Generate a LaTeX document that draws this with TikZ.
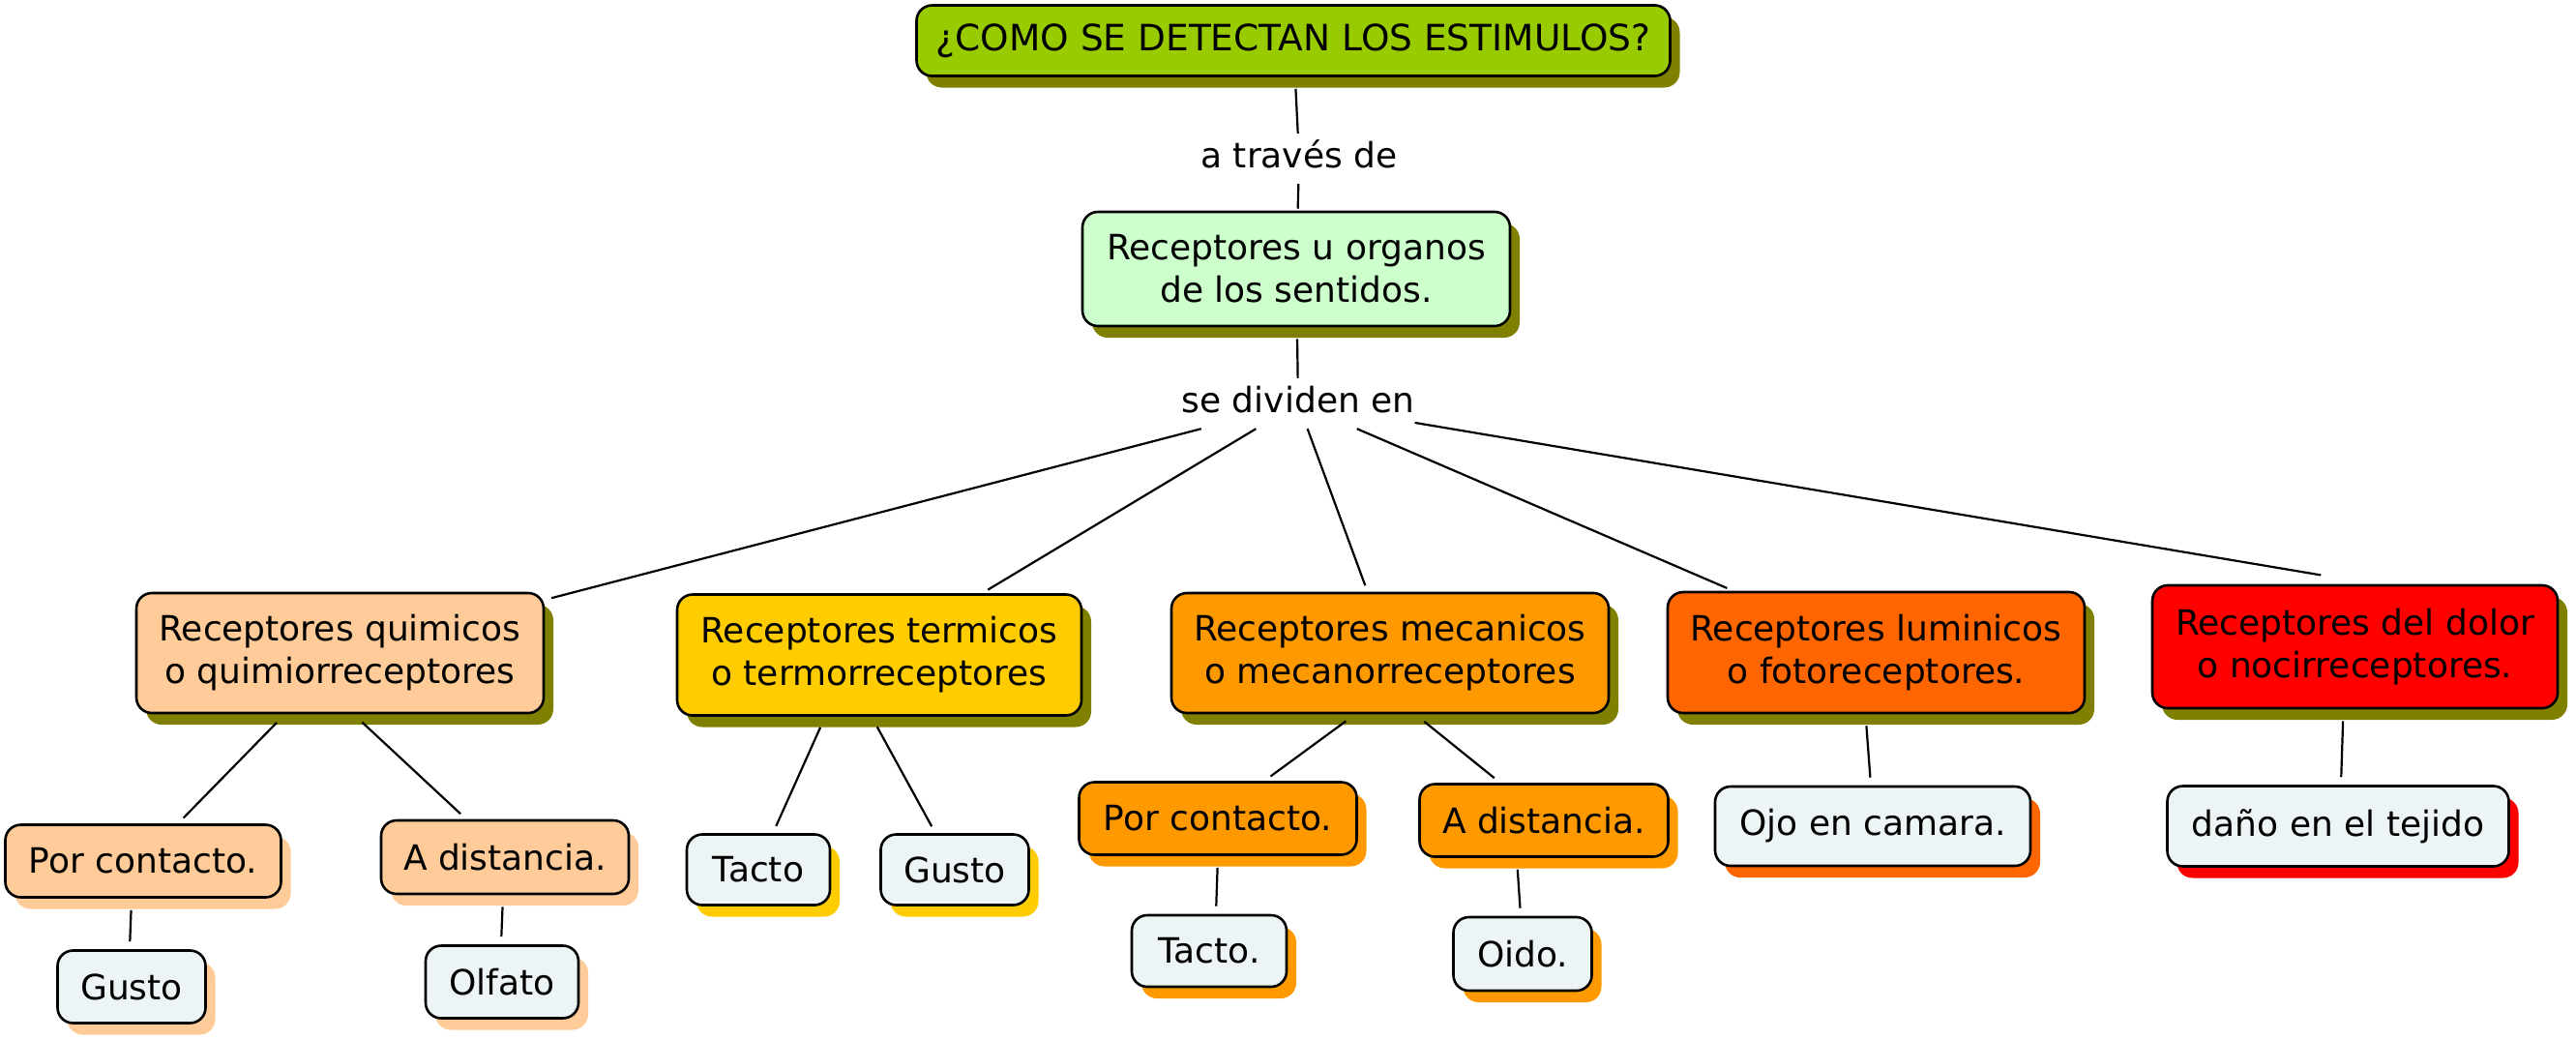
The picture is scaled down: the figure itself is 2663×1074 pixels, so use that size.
\documentclass[tikz,border=0pt]{standalone}
\usepackage{fontspec}
\setmainfont{DejaVu Sans}
\usetikzlibrary{shadows}
\definecolor{titlegreen}{RGB}{153,204,0}
\definecolor{olivesh}{RGB}{128,128,0}
\definecolor{mint}{RGB}{204,255,204}
\definecolor{peach}{RGB}{255,204,153}
\definecolor{gold}{RGB}{255,204,0}
\definecolor{orng}{RGB}{255,153,0}
\definecolor{dorng}{RGB}{255,102,0}
\definecolor{redc}{RGB}{255,0,0}
\definecolor{leaf}{RGB}{237,244,245}
\begin{document}
\begin{tikzpicture}[x=1pt,y=-1pt,
 box/.style={draw=black, line width=2.6pt, rounded corners=16pt, align=center, inner sep=0pt, font=\fontsize{36}{44}\selectfont},
 sh/.style={drop shadow={shadow xshift=10pt, shadow yshift=-12pt, fill=#1, opacity=1}},
 lab/.style={inner sep=0pt, minimum height=52pt, text height=27pt, text depth=8pt, font=\fontsize{36}{44}\selectfont},
 link/.style={line width=2.2pt},
 bb/.style={link, shorten <=12pt, shorten >=8pt}
]
\useasboundingbox (0,0) rectangle (2663,1074);
\node[box, fill=titlegreen, sh=olivesh, minimum width=779pt, minimum height=73pt, font=\fontsize{37.5}{44}\selectfont] (t) at (1337,42) {¿COMO SE DETECTAN LOS ESTIMULOS?};
\node[lab] (l1) at (1343,164) {a través de};
\node[box, fill=mint, sh=olivesh, minimum width=442pt, minimum height=118pt] (r) at (1340,278) {Receptores u organos\\de los sentidos.};
\node[lab] (l2) at (1342,417) {se dividen en};

\node[box, fill=peach, sh=olivesh, minimum width=421pt, minimum height=124pt] (qui) at (351.5,675) {Receptores quimicos\\o quimiorreceptores};
\node[box, fill=gold, sh=olivesh, minimum width=418pt, minimum height=125pt] (ter) at (909,677) {Receptores termicos\\o termorreceptores};
\node[box, fill=orng, sh=olivesh, minimum width=452pt, minimum height=124pt] (mec) at (1437,675) {Receptores mecanicos\\o mecanorreceptores};
\node[box, fill=dorng, sh=olivesh, minimum width=431pt, minimum height=125pt] (lum) at (1939.5,674.5) {Receptores luminicos\\o fotoreceptores.};
\node[box, fill=redc, sh=olivesh, minimum width=419pt, minimum height=127pt] (dol) at (2434.5,668.5) {Receptores del dolor\\o nocirreceptores.};

\node[box, fill=peach, sh=peach, minimum width=285pt, minimum height=75pt] (qpc) at (148,890) {Por contacto.};
\node[box, fill=peach, sh=peach, minimum width=256pt, minimum height=76pt] (qad) at (522,886) {A distancia.};
\node[box, fill=leaf, sh=peach, minimum width=153pt, minimum height=75pt] (qg) at (136,1020) {Gusto};
\node[box, fill=leaf, sh=peach, minimum width=158pt, minimum height=75pt] (qo) at (519,1015) {Olfato};

\node[box, fill=leaf, sh=gold, minimum width=148pt, minimum height=73pt] (tt) at (784,899) {Tacto};
\node[box, fill=leaf, sh=gold, minimum width=153pt, minimum height=73pt] (tg) at (987,899) {Gusto};

\node[box, fill=orng, sh=orng, minimum width=287pt, minimum height=75pt] (mpc) at (1259,846) {Por contacto.};
\node[box, fill=orng, sh=orng, minimum width=257pt, minimum height=75pt] (mad) at (1596,848) {A distancia.};
\node[box, fill=leaf, sh=orng, minimum width=160pt, minimum height=74pt] (mt) at (1250,983) {Tacto.};
\node[box, fill=leaf, sh=orng, minimum width=143pt, minimum height=76pt] (mo) at (1574,986) {Oido.};

\node[box, fill=leaf, sh=dorng, minimum width=326pt, minimum height=82pt] (lo) at (1936,854) {Ojo en camara.};
\node[box, fill=leaf, sh=redc, minimum width=353pt, minimum height=83pt] (dd) at (2417,854) {daño en el tejido};

\draw[link, shorten <=12pt] (t) -- (l1);
\draw[link, shorten >=2pt] (l1) -- (r);
\draw[link, shorten <=12pt] (r) -- (l2);
\foreach \n in {qui,ter,mec,lum} \draw[link, shorten >=7pt] (l2) -- (\n);
\draw[link, shorten >=56pt] (l2) -- ([xshift=20pt]dol.north);
\draw[bb] ([xshift=-57pt]qui.south) -- ([xshift=36pt]qpc.north);
\draw[bb] ([xshift=14pt]qui.south) -- ([xshift=-40pt]qad.north);
\draw[bb] ([xshift=-12pt]qpc.south) -- ([xshift=-2pt]qg.north);
\draw[bb] ([xshift=-2pt]qad.south) -- ([xshift=-1pt]qo.north);
\draw[bb] ([xshift=-56pt]ter.south) -- ([xshift=15pt]tt.north);
\draw[bb] ([xshift=-8pt]ter.south) -- ([xshift=-20pt]tg.north);
\draw[bb] ([xshift=-36pt]mec.south) -- ([xshift=48pt]mpc.north);
\draw[bb] ([xshift=26pt]mec.south) -- ([xshift=-45pt]mad.north);
\draw[bb] (mpc.south) -- ([xshift=7pt]mt.north);
\draw[bb] ([xshift=-28pt]mad.south) -- ([xshift=-2pt]mo.north);
\draw[bb] ([xshift=-11pt]lum.south) -- ([xshift=-2pt]lo.north);
\draw[bb] ([xshift=-12pt]dol.south) -- ([xshift=3pt]dd.north);
\end{tikzpicture}
\end{document}
